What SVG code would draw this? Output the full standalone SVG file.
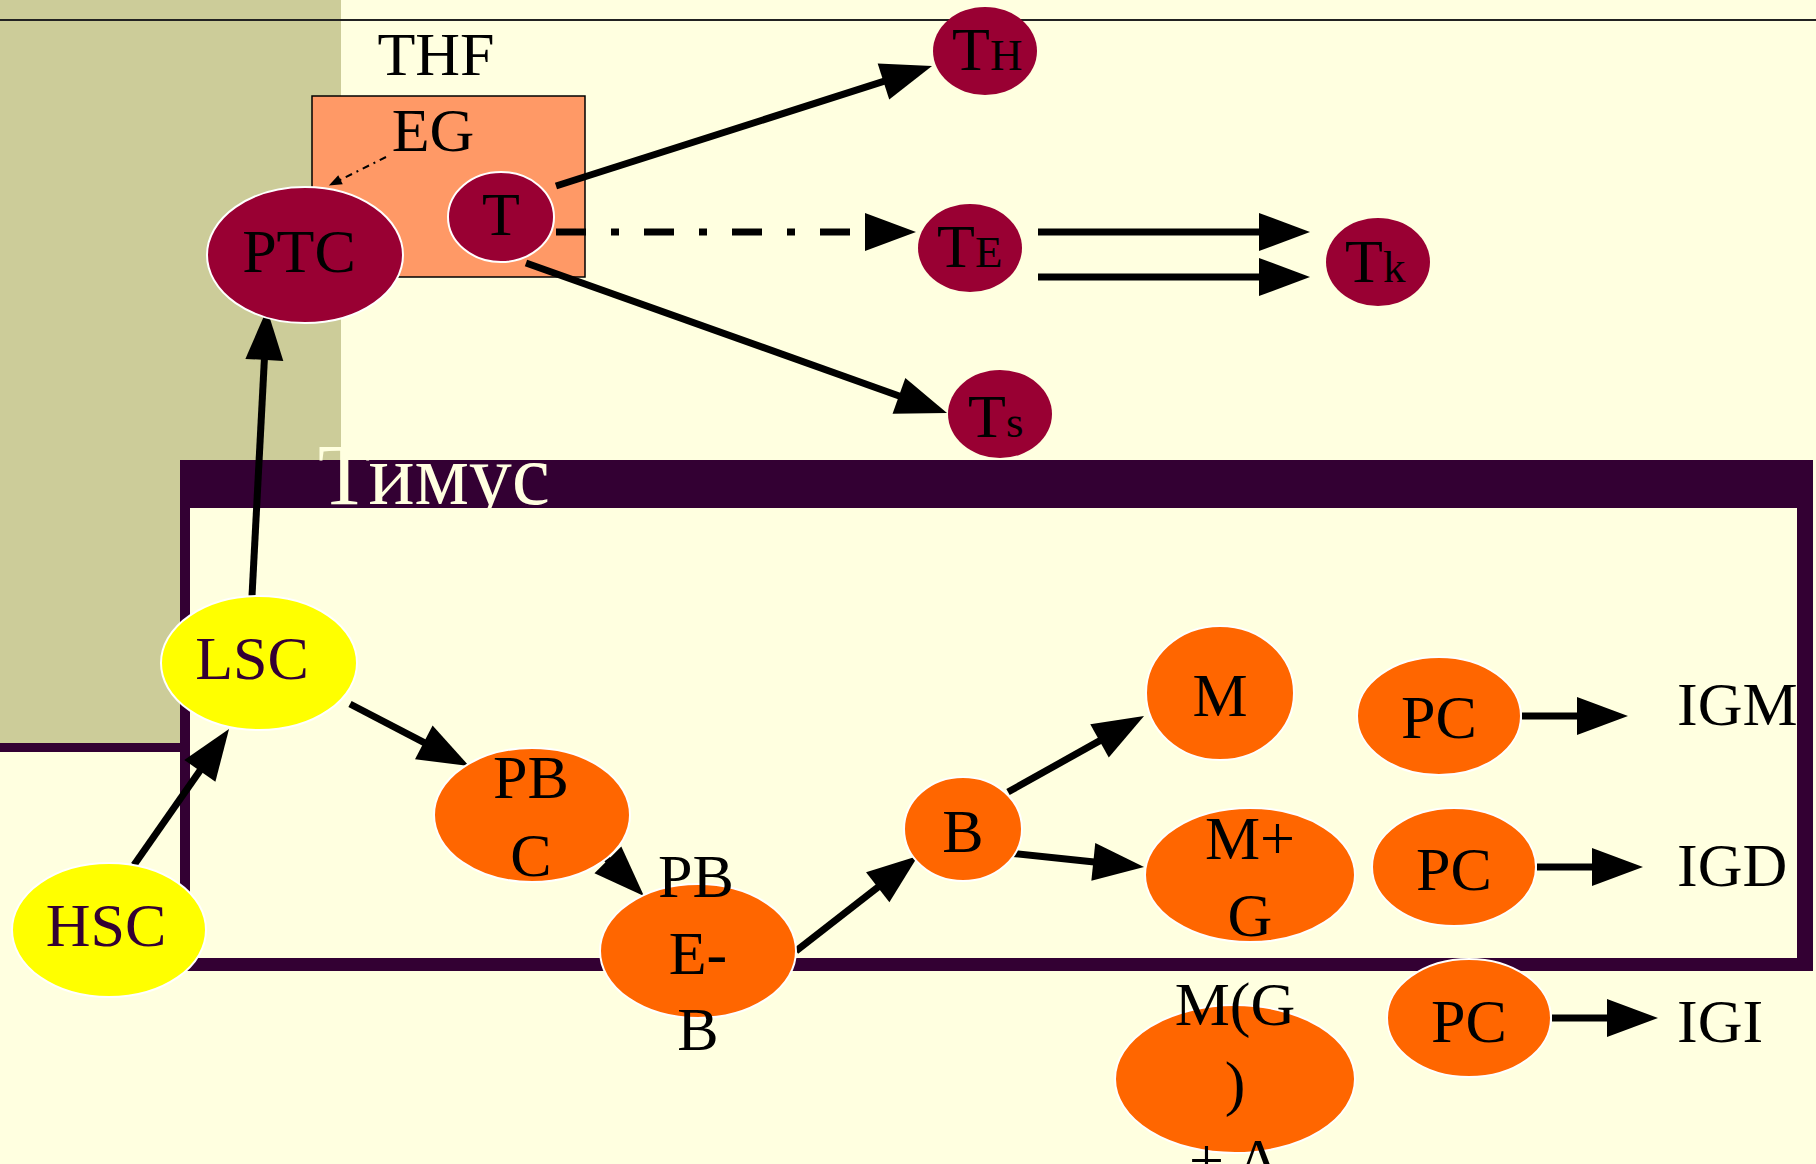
<svg xmlns="http://www.w3.org/2000/svg" width="1816" height="1164" viewBox="0 0 1816 1164">
<style>
.lbl{font-family:"Liberation Serif","Times New Roman",serif;font-size:62px;fill:#000}
.mid{text-anchor:middle}
.sub{font-size:45px}
.yl{fill:#330033}
.cr{fill:#990033}
.or{fill:#FF6600;stroke:#FFFFFF;stroke-width:2}
.ye{fill:#FFFF00;stroke:#FFFFFF;stroke-width:2}
.crw{fill:#990033;stroke:#FFFFFF;stroke-width:2}
.ln{stroke:#000;stroke-width:7;fill:none;marker-end:url(#ah)}
</style>
<defs>
<marker id="ah" markerUnits="userSpaceOnUse" markerWidth="52" markerHeight="38" refX="1" refY="19" orient="auto" overflow="visible"><path d="M0,0 L51,19 L0,38 Z" fill="#000"/></marker>
<marker id="ahs" markerUnits="userSpaceOnUse" markerWidth="14" markerHeight="10" refX="1" refY="5" orient="auto" overflow="visible"><path d="M0,0 L13,5 L0,10 Z" fill="#000"/></marker>
</defs>
<rect x="0" y="0" width="1816" height="1164" fill="#FFFFE0"/>
<g id="background">
<rect x="0" y="0" width="341" height="743" fill="#CCCC99"/>
<rect x="0" y="743" width="181" height="9" fill="#330033"/>
<line x1="0" y1="20" x2="1816" y2="20" stroke="#222" stroke-width="2"/>
</g>
<g id="thymus">
<rect x="180" y="460" width="1633" height="511" fill="#330033"/>
<rect x="190" y="508" width="1607" height="450" fill="#FFFFE0"/>
<text x="318" y="504" font-family="Liberation Serif, serif" font-size="86" fill="#FFFFE0">Тимус</text>
</g>
<g id="thf">
<text class="lbl mid" x="436" y="75">THF</text>
<rect x="312" y="96" width="273" height="181" fill="#FF9966" stroke="#000" stroke-width="1.5"/>
<text class="lbl mid" x="433" y="151">EG</text>
</g>
<g id="connectors">
<line x1="386" y1="157" x2="339.6" y2="180.2" stroke="#000" stroke-width="2" stroke-dasharray="7 5 2 5" marker-end="url(#ahs)"/>
<line class="ln" x1="556" y1="186" x2="884.4" y2="81.2"/>
<line class="ln" x1="556" y1="232" x2="866" y2="232" stroke-dasharray="30 25 8 25"/>
<line class="ln" x1="526" y1="263" x2="899.9" y2="396.2"/>
<line class="ln" x1="1038" y1="232" x2="1260" y2="232"/>
<line class="ln" x1="1038" y1="277" x2="1260" y2="277"/>
<line class="ln" x1="252" y1="596" x2="264.4" y2="358.9"/>
<line class="ln" x1="134" y1="865" x2="200.4" y2="770"/>
<line class="ln" x1="350" y1="704" x2="424.7" y2="742.9"/>
<line class="ln" x1="600" y1="852" x2="608.6" y2="860.6"/>
<line class="ln" x1="796" y1="951" x2="878.5" y2="886.7"/>
<line class="ln" x1="1008" y1="792" x2="1100.4" y2="740.4"/>
<line class="ln" x1="1008" y1="853" x2="1094.3" y2="861.9"/>
<line class="ln" x1="1522" y1="716" x2="1578" y2="716"/>
<line class="ln" x1="1537" y1="867" x2="1593" y2="867"/>
<line class="ln" x1="1552" y1="1018" x2="1608" y2="1018"/>
</g>
<g id="node-PTC"><ellipse class="crw" cx="305" cy="255" rx="98" ry="68"/><text class="lbl mid" x="299" y="272">PTC</text></g>
<g id="node-T"><ellipse class="crw" cx="501" cy="217" rx="53" ry="45"/><text class="lbl mid" x="501" y="235">T</text></g>
<g id="node-TH"><ellipse class="cr" cx="985" cy="51" rx="52" ry="44"/><text class="lbl" x="952" y="70">T<tspan class="sub">H</tspan></text></g>
<g id="node-TE"><ellipse class="cr" cx="970" cy="248" rx="52" ry="44"/><text class="lbl" x="937" y="267">T<tspan class="sub">E</tspan></text></g>
<g id="node-Tk"><ellipse class="cr" cx="1378" cy="262" rx="52" ry="44"/><text class="lbl" x="1345" y="282">T<tspan class="sub">k</tspan></text></g>
<g id="node-Ts"><ellipse class="cr" cx="1000" cy="414" rx="52" ry="44"/><text class="lbl" x="968" y="437">T<tspan class="sub">s</tspan></text></g>
<g id="node-LSC"><ellipse class="ye" cx="259" cy="663" rx="98" ry="67"/><text class="lbl mid yl" x="252" y="679">LSC</text></g>
<g id="node-HSC"><ellipse class="ye" cx="109" cy="930" rx="97" ry="67"/><text class="lbl mid yl" x="106" y="946">HSC</text></g>
<g id="node-PBC"><ellipse class="or" cx="532" cy="815" rx="98" ry="67"/><text class="lbl mid" x="531" y="798">PB</text><text class="lbl mid" x="531" y="876">C</text></g>
<g id="node-PBEB"><ellipse class="or" cx="698" cy="951" rx="98" ry="67"/><text class="lbl mid" x="696" y="897">PB</text><text class="lbl mid" x="698" y="974">E-</text><text class="lbl mid" x="698" y="1050">B</text></g>
<g id="node-B"><ellipse class="or" cx="963" cy="829" rx="59" ry="52"/><text class="lbl mid" x="963" y="852">B</text></g>
<g id="node-M"><ellipse class="or" cx="1220" cy="693" rx="74" ry="67"/><text class="lbl mid" x="1220" y="716">M</text></g>
<g id="node-MG"><ellipse class="or" cx="1250" cy="875" rx="105" ry="67"/><text class="lbl mid" x="1250" y="859">M+</text><text class="lbl mid" x="1250" y="936">G</text></g>
<g id="node-MGA"><ellipse class="or" cx="1235" cy="1079" rx="120" ry="74"/><text class="lbl mid" x="1235" y="1025">M(G</text><text class="lbl mid" x="1235" y="1104">)</text><text class="lbl mid" x="1235" y="1181">+ A</text></g>
<g id="node-PC1"><ellipse class="or" cx="1439" cy="716" rx="82" ry="59"/><text class="lbl mid" x="1439" y="738">PC</text></g>
<g id="node-PC2"><ellipse class="or" cx="1454" cy="867" rx="82" ry="59"/><text class="lbl mid" x="1454" y="890">PC</text></g>
<g id="node-PC3"><ellipse class="or" cx="1469" cy="1018" rx="82" ry="59"/><text class="lbl mid" x="1469" y="1042">PC</text></g>
<g id="node-IGM"><text class="lbl" x="1677" y="725">IGM</text></g>
<g id="node-IGD"><text class="lbl" x="1677" y="886">IGD</text></g>
<g id="node-IGI"><text class="lbl" x="1677" y="1042">IGI</text></g>
</svg>
